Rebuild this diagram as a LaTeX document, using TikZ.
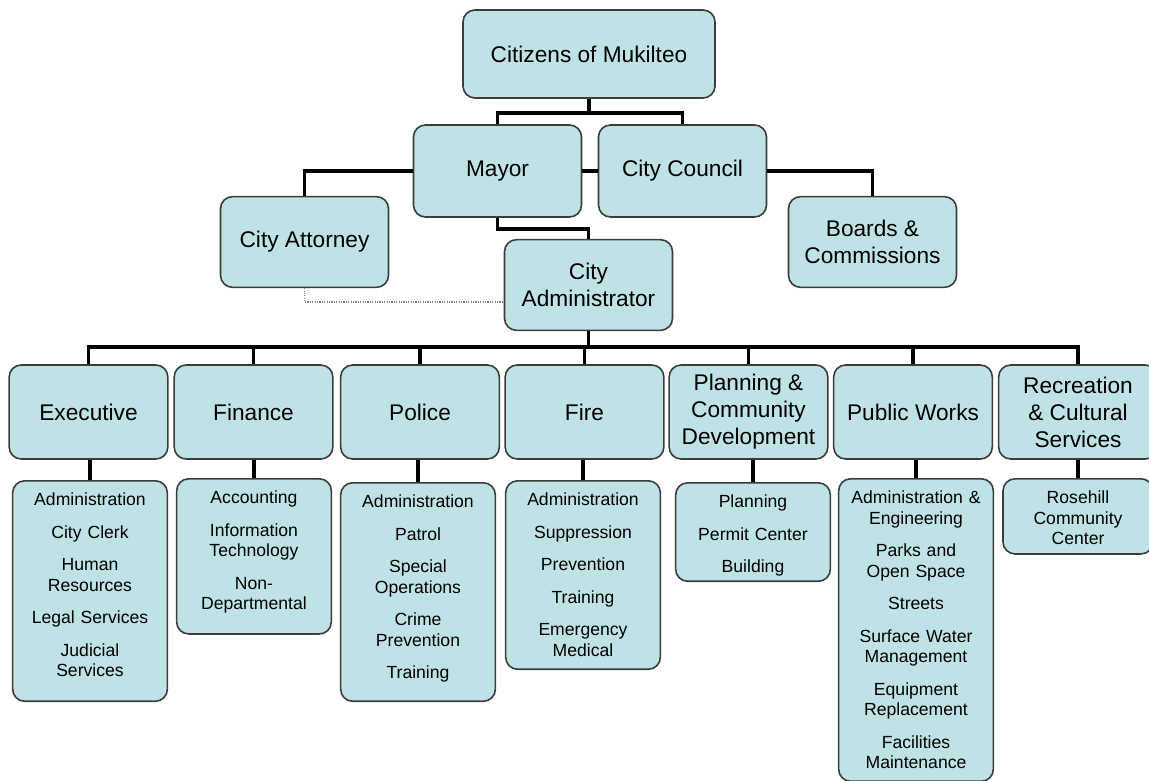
\documentclass[tikz,border=0pt]{standalone}
\usepackage{fontspec}
\setmainfont{Liberation Sans}
\usepackage{tikz}
\usetikzlibrary{positioning}

\definecolor{boxfill}{RGB}{190,226,229}
\definecolor{boxline}{RGB}{60,60,60}

\begin{document}
\begin{tikzpicture}[
    x=0.75pt, y=-0.75pt,
    every node/.style={draw=boxline, fill=boxfill, line width=1.2pt, rounded corners=9pt, align=center},
    head/.style={font=\fontsize{17}{20.2}\selectfont},
    upper/.style={head, minimum width=126pt, minimum height=68pt},
    dept/.style={head, minimum width=119pt, minimum height=70.5pt},
    unit/.style={font=\fontsize{13.2}{15.4}\selectfont, anchor=north, text width=110pt, inner xsep=3pt, inner ysep=9pt},
    link/.style={line width=2.8pt, black},
    dotlink/.style={densely dotted, gray, line width=0.8pt},
]
\useasboundingbox (0,0) rectangle (1149,781);

% Top of the chart
\node[head, minimum width=189pt, minimum height=66pt] (cit) at (589,54) {Citizens of Mukilteo};
\node[upper, minimum height=69pt] (mayor) at (497.5,171) {Mayor};
\node[upper, minimum height=69pt] (council) at (682.5,171) {City Council};
\node[upper] (atty) at (304.5,242) {City Attorney};
\node[upper] (boards) at (872.5,242) {Boards \&\\Commissions};
\node[upper] (admin) at (588.5,285) {City\\Administrator};

% Departments
\node[dept] (exec) at (88.5,412) {Executive};
\node[dept] (fin) at (253.5,412) {Finance};
\node[dept] (pol) at (420,412) {Police};
\node[dept] (fire) at (584.5,412) {Fire};
\node[dept] (plan) at (748.5,412) {Planning \&\\Community\\Development};
\node[dept] (pw) at (913,412) {Public Works};
\node[dept] (rec) at (1078,412) {Recreation\\\& Cultural\\Services};

% Divisions under each department (text sits at the top, text depth sets the box length)
\node[unit, text depth=137.8pt] (exec-u) at (90,480) {Administration\\[9pt]City Clerk\\[9pt]Human\\Resources\\[9pt]Legal Services\\[9pt]Judicial\\Services};
\node[unit, text depth=88.8pt] (fin-u) at (254,478) {Accounting\\[9pt]Information\\Technology\\[9pt]Non-\\Departmental};
\node[unit, text depth=136.3pt] (pol-u) at (418,482) {Administration\\[9pt]Patrol\\[9pt]Special\\Operations\\[9pt]Crime\\Prevention\\[9pt]Training};
\node[unit, text depth=113.8pt] (fire-u) at (583,480) {Administration\\[9pt]Suppression\\[9pt]Prevention\\[9pt]Training\\[9pt]Emergency\\Medical};
\node[unit, text depth=46.3pt] (plan-u) at (753,482) {Planning\\[9pt]Permit Center\\[9pt]Building};
\node[unit, text depth=199.3pt] (pw-u) at (916,478) {Administration \&\\Engineering\\[9pt]Parks and\\Open Space\\[9pt]Streets\\[9pt]Surface Water\\Management\\[9pt]Equipment\\Replacement\\[9pt]Facilities\\Maintenance};
\node[unit, text depth=28.8pt, text width=106.5pt] (rec-u) at (1078,478) {Rosehill\\Community\\Center};

% Connectors
\coordinate (topbus) at (0,113);
\coordinate (adminjog) at (0,229);
\coordinate (dotjog) at (0,302);
\coordinate (bus) at (0,347);

\draw[link] (cit.south) -- (cit.south |- topbus);
\draw[link] (mayor.north) |- (cit.south |- topbus) -| (council.north);
\draw[link] (mayor) -- (council);
\draw[link] (mayor.west) -| (atty.north);
\draw[link] (council.east) -| (boards.north);
\draw[link] (mayor.south) |- (admin.north |- adminjog) -- (admin.north);
\draw[dotlink] (atty.south) |- (admin.west |- dotjog);

\draw[link] (admin.south) -- (admin.south |- bus);
\draw[link] (exec.north) |- (admin.south |- bus) -| (rec.north);
\foreach \d in {fin,pol,fire,plan,pw}
    \draw[link] (\d.north |- bus) -- (\d.north);
\foreach \d in {exec,fin,pol,fire,plan,pw,rec}
    \draw[link] (\d-u.north) -- (\d-u.north |- \d.south);
\end{tikzpicture}
\end{document}
